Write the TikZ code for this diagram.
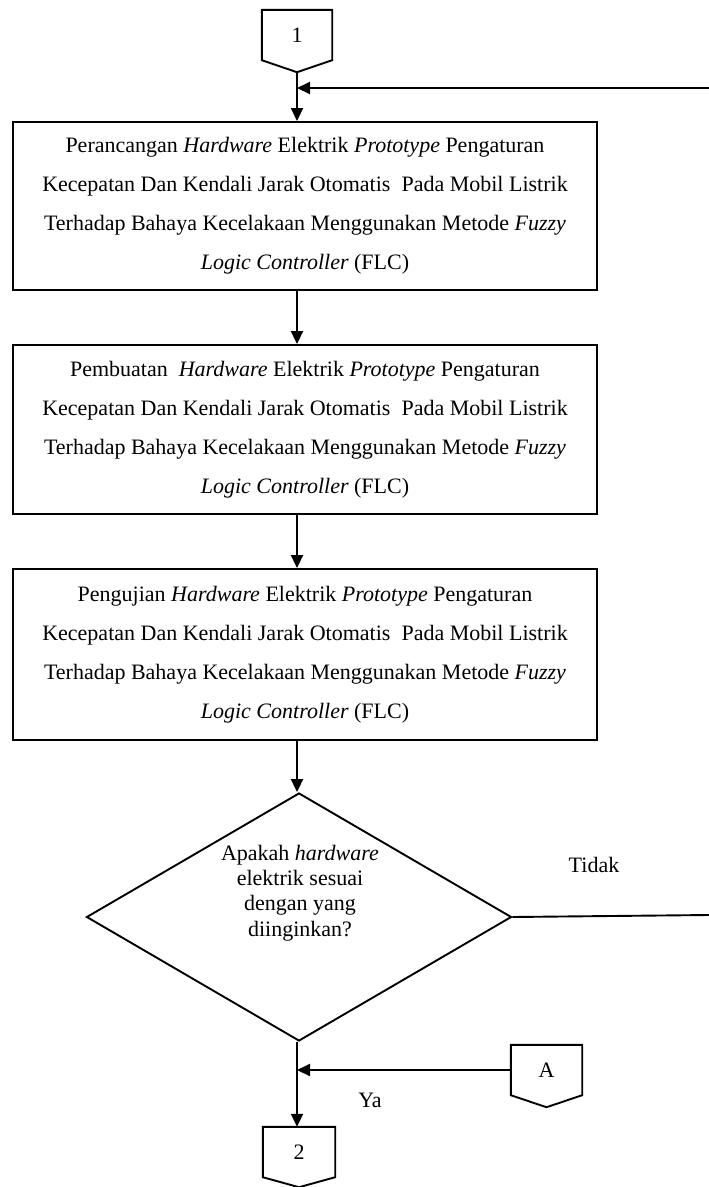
\documentclass[tikz,border=0pt]{standalone}
\usepackage{fontspec}
\setmainfont{Liberation Serif}
\usetikzlibrary{arrows.meta,shapes.geometric,calc}
\begin{document}
\begin{tikzpicture}[x=1pt,y=-1pt,
  line/.style={line width=1.9pt,draw=black},
  arr/.style={line width=1.9pt,-{Triangle[length=13pt,width=12pt]}},
  procbox/.style={draw,line width=1.9pt,rectangle,minimum width=584pt,inner sep=0pt,align=center,
     font=\fontsize{22pt}{39pt}\selectfont},
  offpage/.style={rectangle,inner sep=0pt,minimum height=50pt,font=\fontsize{22pt}{26pt}\selectfont},
  lbl/.style={font=\fontsize{22pt}{26pt}\selectfont,inner sep=0pt},
  decision/.style={draw,line width=1.9pt,diamond,minimum width=425pt,minimum height=248pt,inner sep=0pt,aspect=1.71}
]
\useasboundingbox (0,0) rectangle (709,1187);
\newcommand\offpagepath[2]{\draw[line,line join=miter] (#1.north west) -- (#1.north east) -- (#1.south east) -- ([yshift=-#2]#1.south) -- (#1.south west) -- cycle;}

% off-page connectors
\node[offpage,minimum width=70pt] (c1) at (297,35) {1};
\offpagepath{c1}{12pt}
\coordinate (c1tip) at ([yshift=-12pt]c1.south);
\coordinate (axis) at (297,0);

\node[procbox,minimum height=168pt] (b1) at (305,206) {%
Perancangan \textit{Hardware} Elektrik \textit{Prototype} Pengaturan\\
Kecepatan Dan Kendali Jarak Otomatis~ Pada Mobil Listrik\\
Terhadap Bahaya Kecelakaan Menggunakan Metode \textit{Fuzzy}\\
\textit{Logic Controller} (FLC)};

\node[procbox,minimum height=169pt] (b2) at (305,429.5) {%
Pembuatan~ \textit{Hardware} Elektrik \textit{Prototype} Pengaturan\\
Kecepatan Dan Kendali Jarak Otomatis~ Pada Mobil Listrik\\
Terhadap Bahaya Kecelakaan Menggunakan Metode \textit{Fuzzy}\\
\textit{Logic Controller} (FLC)};

\node[procbox,minimum height=171pt] (b3) at (305,654.5) {%
Pengujian \textit{Hardware} Elektrik \textit{Prototype} Pengaturan\\
Kecepatan Dan Kendali Jarak Otomatis~ Pada Mobil Listrik\\
Terhadap Bahaya Kecelakaan Menggunakan Metode \textit{Fuzzy}\\
\textit{Logic Controller} (FLC)};

\node[decision] (d) at (299,917) {};
\node[lbl,align=center,font=\fontsize{22pt}{25.3pt}\selectfont] (dq) at (300,893) {Apakah \textit{hardware}\\ elektrik sesuai\\ dengan yang\\ diinginkan?};

\node[offpage,minimum width=72pt] (c2) at (299,1152) {2};
\offpagepath{c2}{10pt}

\node[offpage,minimum width=71pt] (A) at (546.5,1070) {A};
\offpagepath{A}{12pt}

\node[lbl] (tidak) at (594,865) {Tidak};
\node[lbl] (ya) at (370,1100) {Ya};

\coordinate (rtop) at (709,88);
\coordinate (rtidak) at (709,915);
\coordinate (join1) at (axis |- rtop);
\coordinate (joinA) at (axis |- A.west);

% connectors
\draw[line] (c1tip) -- (join1);
\draw[arr] (join1) -- (axis |- b1.north);
\draw[arr] (rtop) -- (join1);
\draw[arr] (axis |- b1.south) -- (axis |- b2.north);
\draw[arr] (axis |- b2.south) -- (axis |- b3.north);
\draw[arr] (axis |- b3.south) -- (axis |- d.north);
\draw[line] (d.east) -- (rtidak);
\draw[line] (axis |- d.south) -- (joinA);
\draw[arr] (joinA) -- (axis |- c2.north);
\draw[arr] (A.west) -- (joinA);
\end{tikzpicture}
\end{document}
